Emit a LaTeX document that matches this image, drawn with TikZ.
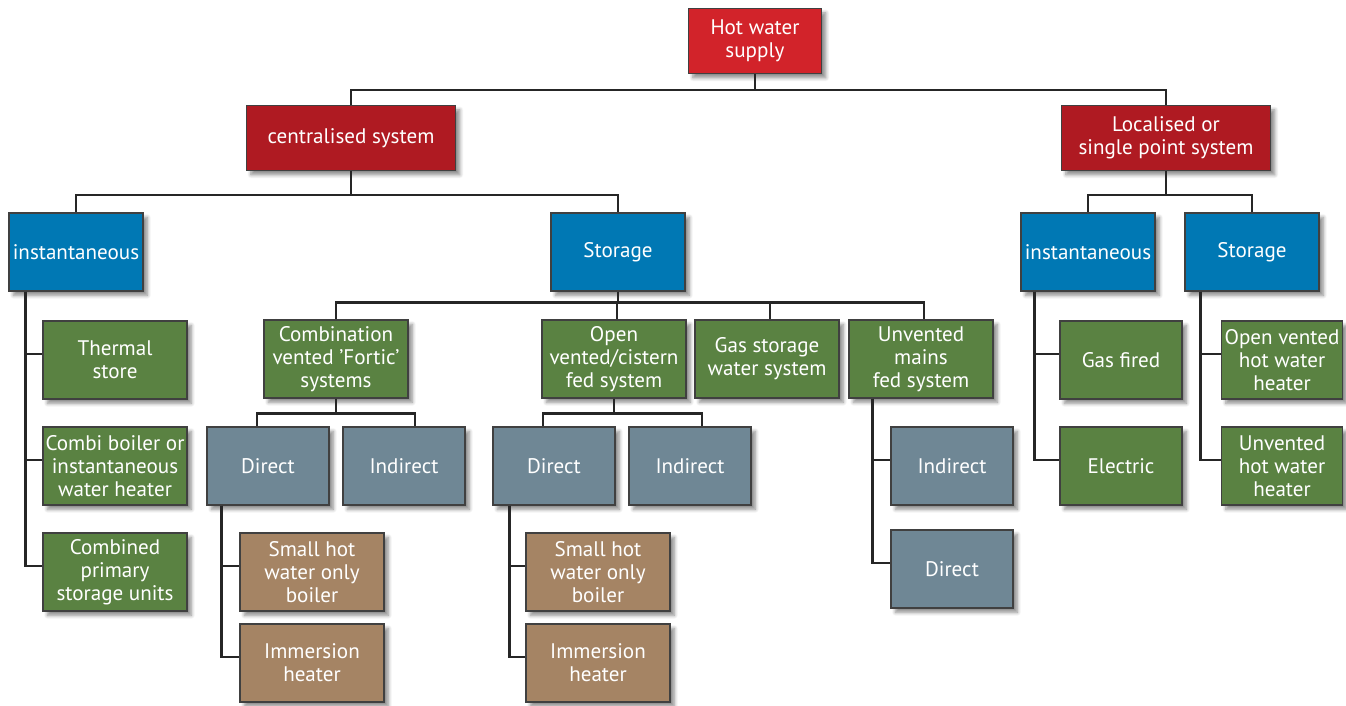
\documentclass[tikz,border=0pt]{standalone}
\usepackage{fontspec}
\setmainfont{PT Sans}
\usetikzlibrary{shadows, shadows.blur, calc, positioning}
\definecolor{hwred}{HTML}{D2232A}
\definecolor{hwdred}{HTML}{AF1A22}
\definecolor{hwblue}{HTML}{0078B4}
\definecolor{hwgreen}{HTML}{5A8242}
\definecolor{hwgrey}{HTML}{6F8795}
\definecolor{hwbrown}{HTML}{A58464}
\tikzset{
  % generic box
  box/.style={draw=black!75, line width=0.6pt, text=white, align=center,
    font=\fontsize{12}{13.2}\selectfont, inner sep=1pt,
    minimum height=1.56cm,
    blur shadow={shadow xshift=2.5pt, shadow yshift=-2.5pt, shadow blur steps=6,
      shadow opacity=45}},
  top/.style={box, fill=hwred, minimum width=2.66cm, minimum height=1.3cm},
  sys/.style={box, fill=hwdred, minimum width=4.18cm, minimum height=1.3cm},
  kind/.style={box, fill=hwblue, minimum width=2.68cm},
  unit/.style={box, fill=hwgreen, minimum width=2.88cm},
  unitn/.style={box, fill=hwgreen, minimum width=2.44cm},
  feed/.style={box, fill=hwgrey, minimum width=2.44cm},
  heat/.style={box, fill=hwbrown, minimum width=2.88cm},
  % connectors
  link/.style={draw=black!85, line width=1.5pt},
  thin link/.style={draw=black!85, line width=1.1pt},
}
\begin{document}
\begin{tikzpicture}[x=0.02cm, y=-0.02cm]
  \useasboundingbox (0,0) rectangle (1346,706);
  % first levels
  \node[top] (hws) at (755,41) {Hot water\\supply};
  \node[sys] (cent) at (351,138) {centralised system};
  \node[sys] (local) at (1166,138) {Localised or\\single point system};
  \node[kind] (instC) at (76,252) {instantaneous};
  \node[kind] (storC) at (618,252) {Storage};
  \node[kind] (instL) at (1088,252) {instantaneous};
  \node[kind] (storL) at (1252,252) {Storage};
  % centralised instantaneous
  \node[unit] (therm) at (115,360) {Thermal\\store};
  \node[unit] (combi) at (115,466) {Combi boiler or\\instantaneous\\water heater};
  \node[unit] (cpsu) at (115,572) {Combined\\primary\\storage units};
  % centralised storage
  \node[unit] (fortic) at (336,359) {Combination\\vented 'Fortic'\\systems};
  \node[unit] (openv) at (614,359) {Open\\vented/cistern\\fed system};
  \node[unit] (gasst) at (767,359) {Gas storage\\water system};
  \node[unit] (unvent) at (921,359) {Unvented\\mains\\fed system};
  \node[feed] (dirF) at (268,466) {Direct};
  \node[feed] (indF) at (404,466) {Indirect};
  \node[feed] (dirO) at (554,466) {Direct};
  \node[feed] (indO) at (690,466) {Indirect};
  \node[feed] (indU) at (952,466) {Indirect};
  \node[feed] (dirU) at (952,569) {Direct};
  \node[heat] (shwF) at (312,572) {Small hot\\water only\\boiler};
  \node[heat] (immF) at (312,663) {Immersion\\heater};
  \node[heat] (shwO) at (598,572) {Small hot\\water only\\boiler};
  \node[heat] (immO) at (598,663) {Immersion\\heater};
  % localised
  \node[unitn] (gasf) at (1121,360) {Gas fired};
  \node[unitn] (elec) at (1121,466) {Electric};
  \node[unitn, minimum width=2.42cm] (ovhw) at (1282,360) {Open vented\\hot water\\heater};
  \node[unitn, minimum width=2.42cm] (uvhw) at (1282,466) {Unvented\\hot water\\heater};

  % connectors
  \draw[thin link] (hws.south) -- ++(0,16) coordinate (j0);
  \draw[thin link] (j0) -| (cent.north);
  \draw[thin link] (j0) -| (local.north);
  \draw[link] (cent.south) -- ++(0,24) coordinate (j1);
  \draw[link] (j1) -| (instC.north);
  \draw[link] (j1) -| (storC.north);
  \draw[link] (local.south) -- ++(0,24) coordinate (j2);
  \draw[link] (j2) -| (instL.north);
  \draw[link] (j2) -| (storL.north);
  \draw[link] (storC.south) -- ++(0,11) coordinate (j3);
  \foreach \c/\dx in {fortic/0, openv/3, gasst/3, unvent/3}
    \draw[link] (j3) -| ($(\c.north)+(\dx,0)$);
  \draw[link] (fortic.south) -- ++(0,15) coordinate (j4);
  \draw[link] (j4) -| ($(dirF.north)+(-11,0)$);
  \draw[link] (j4) -| ($(indF.north)+(11,0)$);
  \draw[link] (openv.south) -- ++(0,15) coordinate (j5);
  \draw[link] (j5) -| ($(dirO.north)+(-11,0)$);
  \draw[link] (j5) -| ($(indO.north)+(12,0)$);
  % side trees
  \foreach \c in {therm, combi, cpsu}
    \draw[link] ($(instC.south west)+(17,0)$) |- ($(\c.west)+(0,-6)$);
  \foreach \c in {shwF, immF}
    \draw[link] ($(dirF.south west)+(15,0)$) |- ($(\c.west)+(0,-6)$);
  \foreach \c in {shwO, immO}
    \draw[link] ($(dirO.south west)+(17,0)$) |- ($(\c.west)+(0,-6)$);
  \foreach \c in {indU, dirU}
    \draw[link] ($(unvent.south west)+(24,0)$) |- ($(\c.west)+(0,-6)$);
  \foreach \c in {gasf, elec}
    \draw[link] ($(instL.south west)+(14,0)$) |- ($(\c.west)+(0,-6)$);
  \foreach \c in {ovhw, uvhw}
    \draw[link] ($(storL.south west)+(16,0)$) |- ($(\c.west)+(0,-6)$);
\end{tikzpicture}
\end{document}
